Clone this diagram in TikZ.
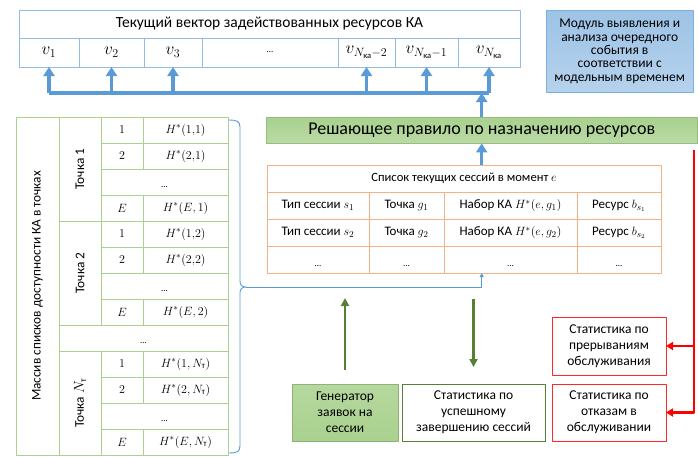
\documentclass[tikz,border=0pt]{standalone}
\usepackage{fontspec}
\usepackage{amsmath}
\setmainfont{Carlito}
\usetikzlibrary{arrows.meta}
\definecolor{vecblue}{RGB}{146,188,230}
\definecolor{busblue}{RGB}{91,155,213}
\definecolor{listgreen}{RGB}{169,209,142}
\definecolor{darkgreen}{RGB}{84,130,53}
\definecolor{sessorange}{RGB}{244,177,131}
\definecolor{modblue}{RGB}{157,195,230}
\definecolor{statred}{RGB}{255,40,40}
\tikzset{
  vcell/.style={draw=vecblue,line width=0.8pt,inner sep=0pt,outer sep=0pt,anchor=north west,minimum height=29pt,font=\fontsize{17}{19}\selectfont},
  lcell/.style={draw=listgreen,line width=1pt,inner sep=0pt,outer sep=0pt,anchor=north west,minimum height=26pt,font=\fontsize{12.5}{15}\selectfont},
  scell/.style={draw=sessorange,line width=1pt,inner sep=0pt,outer sep=0pt,anchor=north west,minimum height=27pt,font=\fontsize{13}{15}\selectfont},
  statbox/.style={draw,line width=1pt,inner sep=0pt,outer sep=0pt,anchor=north west,minimum height=57pt,align=center,font=\fontsize{13.5}{16}\selectfont},
  busline/.style={busblue,line width=3.2pt},
  busarrow/.style={busblue,line width=3.2pt,-{Triangle[width=11pt,length=9pt]}},
  thinarrow/.style={busblue,line width=0.9pt,-{Triangle[width=4pt,length=4pt]}},
  greenarrow/.style={darkgreen,line width=2.6pt,-{Triangle[width=8pt,length=8pt]}},
  redarrow/.style={red,line width=2.6pt,-{Triangle[width=8pt,length=7pt]}}
}
\begin{document}
\begin{tikzpicture}[x=1pt,y=-1pt,line join=round,>=Stealth]
\useasboundingbox (0,0) rectangle (698,456);
% vector of used resources
\node[vcell,minimum width=501pt,minimum height=28pt,font=\fontsize{15.5}{17}\selectfont] (vtitle) at (19,10) {Текущий вектор задействованных ресурсов КА};
\foreach \i/\xa/\xb/\lbl in {1/19/79/{$v_1$},2/79/144/{$v_2$},3/144/202/{$v_3$},0/202/338/{\small\ldots},4/338/395/{$v_{N_{\text{ка}}-2}$},5/395/458/{$v_{N_{\text{ка}}-1}$},6/458/520/{$v_{N_{\text{ка}}}$}}
  \node[vcell,minimum width={(\xb-\xa)*1pt}] (v\i) at (\xa,38) {\lbl};
% module box
\node[draw=busblue!80,top color=modblue,bottom color=modblue!75!white,inner sep=0pt,anchor=north west,minimum width=147pt,minimum height=82pt,align=center,font=\fontsize{13.5}{13.4}\selectfont] (module) at (546,10)
  {Модуль выявления и\\анализа очередного\\события в\\соответствии с\\модельным временем};
% decision rule
\node[draw=listgreen!90!black,top color=listgreen,bottom color=listgreen!80!white,inner sep=0pt,anchor=north west,minimum width=431pt,minimum height=26pt,font=\fontsize{18}{20}\selectfont] (rule) at (266,117) {Решающее правило по назначению ресурсов};
\coordinate (bus) at (0,93);
\draw[busline] (bus -| v1) -- (bus -| v6);
\foreach \i in {1,...,6}
  \draw[busarrow] (bus -| v\i) -- (v\i.south);
\draw[busarrow] (rule.north) -- (rule.north |- bus);
% list of current sessions
\node[scell,minimum width=394pt,font=\fontsize{12.6}{15}\selectfont] (stitle) at (267,165) {Список текущих сессий в момент $e$};
\foreach \r/\y in {1/192,2/219} {
  \node[scell,minimum width=102pt] (styp\r) at (267,\y) {Тип сессии $s_\r$};
  \node[scell,minimum width=75pt] (spt\r) at (369,\y) {Точка $g_\r$};
  \node[scell,minimum width=133pt] (sset\r) at (444,\y) {Набор КА $H^*(e,g_\r)$};
  \node[scell,minimum width=84pt] (sres\r) at (577,\y) {Ресурс $b_{s_\r}$};
}
\foreach \n/\xa/\w in {a/267/102,b/369/75,c/444/133,d/577/84}
  \node[scell,minimum width=\w pt,text height=14pt,text depth=0pt] (sdots\n) at (\xa,246) {\small\ldots};
\draw[busarrow] (rule.south |- stitle.north) -- (rule.south);
% array of visibility lists
\node[draw=listgreen,line width=1pt,rotate=90,inner sep=0pt,minimum width=338pt,minimum height=43pt,font=\fontsize{13.3}{15}\selectfont] (massiv) at (37.5,286) {Массив списков доступности КА в точках};
\foreach \y/\g/\lbl in {117/1/{Точка 1},221/2/{Точка 2},351/N/{Точка $N_{\text{т}}$}}
  \node[draw=listgreen,line width=1pt,rotate=90,inner sep=0pt,minimum width=104pt,minimum height=42pt,font=\fontsize{13.3}{15}\selectfont] (pt\g) at (80,\y+52) {\lbl};
\node[lcell,minimum width=169pt,text height=10pt,text depth=0pt] (gdots) at (59,325) {\small\ldots};
\foreach \y/\g/\gg in {117/1/{{,}1},221/2/{{,}2},351/N_{\text{т}}/{,N_{\text{т}}}} {
  \node[lcell,minimum width=42pt] (ka1-\y) at (101,\y) {$1$};
  \node[lcell,minimum width=85pt] (h1-\y) at (143,\y) {$H^*(1\gg)$};
  \node[lcell,minimum width=42pt] (ka2-\y) at (101,\y+26) {$2$};
  \node[lcell,minimum width=85pt] (h2-\y) at (143,\y+26) {$H^*(2\gg)$};
  \node[lcell,minimum width=127pt,text height=10pt,text depth=0pt] (kadots-\y) at (101,\y+52) {\small\ldots};
  \node[lcell,minimum width=42pt] (kaE-\y) at (101,\y+78) {$E$};
  \node[lcell,minimum width=85pt] (hE-\y) at (143,\y+78) {$H^*(E,\g)$};
}
% bracket to the session list
\coordinate (brtip) at (246,287);
\draw[busblue,line width=0.9pt] (229,120) .. controls (236,120) and (240,121) .. (240,127) -- (240,281)
  .. controls (240,285) and (242,287) .. (brtip) .. controls (242,287) and (240,289) .. (240,293)
  -- (240,446) .. controls (240,452) and (236,453) .. (229,453);
\draw[thinarrow] (brtip) -| (sdotsc.south -| rule.south);
% generator and statistics
\node[statbox,draw=listgreen!85!black,top color=listgreen!85!white,bottom color=listgreen,minimum width=106pt] (gen) at (292,384) {Генератор\\заявок на\\сессии};
\node[statbox,draw=darkgreen,minimum width=143pt] (succ) at (402,384) {Статистика по\\успешному\\завершению сессий};
\node[statbox,draw=statred,minimum width=114pt,minimum height=58pt] (interr) at (552,317) {Статистика по\\прерываниям\\обслуживания};
\node[statbox,draw=statred,minimum width=114pt] (refuse) at (552,384) {Статистика по\\отказам в\\обслуживании};
\draw[greenarrow,shorten <=14pt,shorten >=25pt] (gen.north) -- (gen.north |- sdotsa.south);
\draw[greenarrow,shorten <=26pt,shorten >=17pt] (succ.north |- sdotsa.south) -- (succ.north);
\coordinate (redtop) at (694,150);
\draw[redarrow] (redtop) |- (refuse.east);
\draw[redarrow] (redtop |- interr.east) -- (interr.east);
\end{tikzpicture}
\end{document}
